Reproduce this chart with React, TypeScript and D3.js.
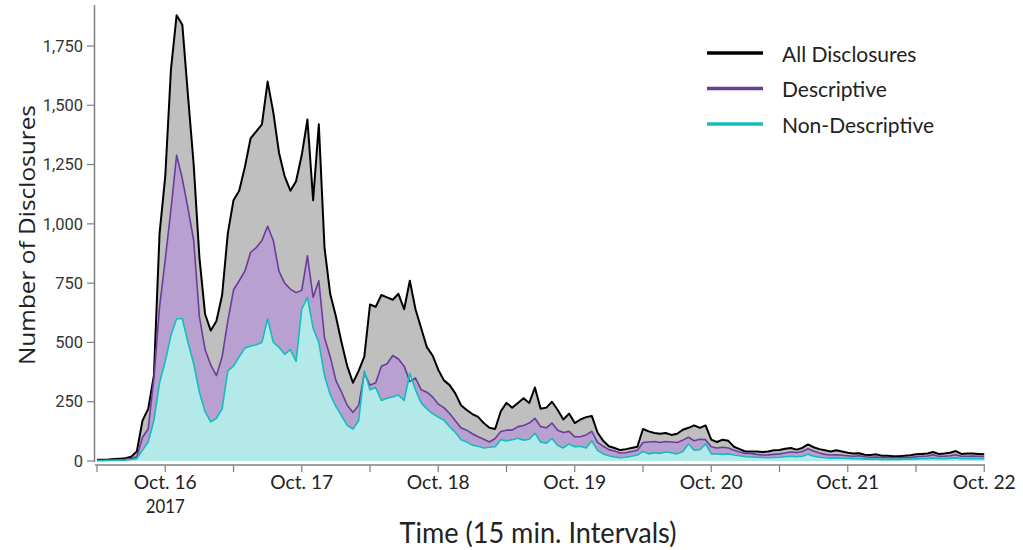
import React from "react";
import * as d3 from "d3";

// hour offsets from 2017-10-15 12:00 UTC (15-min data shown at hourly resolution)
const allDisclosures = [
  5, 5, 6, 8, 10, 12, 18, 40, 170, 220, 360, 960, 1200, 1650, 1880, 1840, 1540, 1250, 860, 620,
  550, 590, 700, 960, 1100, 1140, 1240, 1360, 1390, 1420, 1600, 1470, 1300, 1200, 1140, 1180, 1290, 1440, 1100, 1420,
  900, 705, 610, 500, 400, 330, 380, 440, 660, 650, 700, 690, 680, 705, 640, 760, 640, 560, 480, 445,
  385, 340, 320, 285, 235, 215, 198, 186, 160, 140, 135, 210, 245, 225, 245, 265, 245, 310, 220, 225,
  250, 215, 175, 200, 160, 175, 185, 190, 120, 85, 62, 55, 46, 50, 55, 60, 135, 125, 118, 115,
  118, 110, 115, 132, 140, 150, 140, 150, 90, 80, 90, 85, 60, 50, 40, 40, 40, 38, 40, 45,
  46, 52, 55, 48, 55, 70, 58, 50, 45, 40, 45, 40, 35, 32, 33, 26, 25, 28, 22, 22,
  20, 20, 22, 24, 28, 30, 32, 38, 30, 32, 35, 42, 30, 32, 32, 30, 28,
];
const descriptive = [
  2, 2, 3, 4, 5, 6, 10, 18, 100, 135, 350, 650, 850, 1060, 1290, 1190, 1065, 930, 610, 470,
  405, 360, 440, 590, 721, 760, 800, 880, 900, 930, 990, 930, 800, 750, 725, 710, 720, 865, 690, 760,
  520, 440, 340, 290, 235, 205, 235, 370, 320, 330, 400, 410, 445, 430, 400, 335, 350, 300, 290, 270,
  240, 225, 200, 170, 140, 130, 115, 102, 92, 80, 95, 124, 130, 130, 145, 150, 160, 180, 145, 140,
  160, 130, 120, 125, 102, 102, 110, 125, 80, 62, 48, 42, 34, 35, 40, 45, 78, 80, 82, 78,
  82, 80, 78, 88, 100, 85, 92, 90, 60, 55, 58, 55, 45, 38, 32, 32, 28, 25, 26, 28,
  30, 34, 38, 36, 40, 52, 42, 34, 28, 25, 26, 24, 22, 20, 22, 18, 16, 17, 15, 15,
  14, 14, 15, 16, 18, 20, 21, 26, 20, 20, 22, 26, 20, 20, 21, 20, 19,
];
const nonDescriptive = [
  2, 2, 2, 3, 3, 4, 6, 10, 46, 80, 170, 330, 420, 530, 600, 600, 500, 410, 290, 208,
  165, 180, 220, 380, 400, 440, 475, 485, 490, 500, 600, 500, 480, 450, 470, 420, 640, 690, 560, 500,
  360, 280, 230, 190, 150, 135, 170, 380, 300, 310, 255, 265, 270, 278, 255, 370, 300, 245, 220, 200,
  185, 172, 145, 120, 90, 80, 67, 62, 55, 58, 60, 90, 85, 90, 96, 88, 92, 117, 80, 75,
  95, 65, 55, 72, 60, 62, 55, 85, 45, 30, 22, 17, 14, 16, 20, 25, 40, 30, 35, 32,
  38, 35, 30, 40, 72, 45, 48, 72, 30, 30, 28, 30, 25, 22, 18, 17, 16, 15, 14, 15,
  16, 18, 20, 18, 20, 28, 20, 16, 14, 12, 13, 12, 11, 10, 10, 8, 8, 8, 7, 7,
  7, 7, 8, 8, 9, 10, 10, 12, 10, 10, 11, 13, 10, 10, 10, 10, 9,
];
const yTicks = [0, 250, 500, 750, 1000, 1250, 1500, 1750];
const dayLabels = ["Oct. 16", "Oct. 17", "Oct. 18", "Oct. 19", "Oct. 20", "Oct. 21", "Oct. 22"];
const legendItems = ["All Disclosures", "Descriptive", "Non-Descriptive"];

const start = Date.UTC(2017, 9, 15, 12);
const end = Date.UTC(2017, 9, 22, 0);
const HOUR = 3600 * 1000;
const times = allDisclosures.map((_, i) => new Date(start + i * HOUR));

const COLORS = {
  allLine: "#000000",
  allFill: "#bfbfbf",
  descLine: "#6a3d9a",
  descFill: "#b8a0d0",
  nonLine: "#17bcbc",
  nonFill: "#b3e9e8",
};

export default function App() {
  const W = 1023;
  const H = 550;
  const x = d3.scaleUtc().domain([new Date(start), new Date(end)]).range([97, 984.25]);
  const y = d3.scaleLinear().domain([0, 1750]).range([461, 46]);

  const series = [
    { vals: allDisclosures, line: COLORS.allLine, fill: COLORS.allFill, w: 2 },
    { vals: descriptive, line: COLORS.descLine, fill: COLORS.descFill, w: 1.6 },
    { vals: nonDescriptive, line: COLORS.nonLine, fill: COLORS.nonFill, w: 1.6 },
  ];
  const area = (vals: number[]) =>
    d3
      .area<number>()
      .x((_, i) => x(times[i]))
      .y0(y(0))
      .y1((d) => y(d))(vals) as string;
  const line = (vals: number[]) =>
    d3
      .line<number>()
      .x((_, i) => x(times[i]))
      .y((d) => y(d))(vals) as string;

  const tickDates = d3.range(start, end + 1, 12 * HOUR).map((t) => new Date(t));
  const dayDates = d3.range(start + 12 * HOUR, end + 1, 24 * HOUR).map((t) => new Date(t));

  const cmFont = "Lato, 'Open Sans', sans-serif";
  const axisGray = "#7f7f7f";

  return (
    <svg width={W} height={H} style={{ position: "absolute", left: 0, top: 0, background: "#fff" }}>
      {series.map((s, i) => (
        <path key={"a" + i} d={area(s.vals)} fill={s.fill} stroke="none" />
      ))}
      {series.map((s, i) => (
        <path key={"l" + i} d={line(s.vals)} fill="none" stroke={s.line} strokeWidth={s.w} strokeLinejoin="round" />
      ))}

      {/* y axis */}
      <line x1={94.5} x2={94.5} y1={5} y2={462} stroke={axisGray} strokeWidth={1.5} />
      {yTicks.map((t) => (
        <g key={t}>
          <line x1={87} x2={94.5} y1={y(t)} y2={y(t)} stroke={axisGray} strokeWidth={1.2} />
          <text
            x={83}
            y={y(t)}
            dy="0.35em"
            textAnchor="end"
            fontFamily="Roboto, sans-serif"
            fontSize={16.5}
            fill="#333"
          >
            {d3.format(",")(t)}
          </text>
        </g>
      ))}
      <text
        transform={`translate(35,235) rotate(-90)`}
        textAnchor="middle"
        fontFamily="'Open Sans', sans-serif"
        fontSize={22}
        fill="#222"
        textLength={260}
        lengthAdjust="spacingAndGlyphs"
      >
        Number of Disclosures
      </text>

      {/* x axis */}
      <line x1={95} x2={985} y1={465} y2={465} stroke={axisGray} strokeWidth={1.5} />
      {tickDates.map((d, i) => (
        <line key={i} x1={x(d)} x2={x(d)} y1={465} y2={472} stroke={axisGray} strokeWidth={1.2} />
      ))}
      {dayDates.map((d, i) => (
        <text key={i} x={x(d)} y={489} textAnchor="middle" fontFamily={cmFont} fontSize={19} fill="#222"
          textLength={63} lengthAdjust="spacingAndGlyphs">
          {dayLabels[i]}
        </text>
      ))}
      <text x={x(dayDates[0])} y={513} textAnchor="middle" fontFamily={cmFont} fontSize={19} fill="#222"
        textLength={39} lengthAdjust="spacingAndGlyphs">
        2017
      </text>
      <text x={538} y={543} textAnchor="middle" fontFamily={cmFont} fontSize={29} fill="#222"
        textLength={277} lengthAdjust="spacingAndGlyphs">
        Time (15 min. Intervals)
      </text>

      {/* legend */}
      {legendItems.map((name, i) => (
        <g key={name}>
          <line x1={707} x2={763} y1={53 + i * 35.5} y2={53 + i * 35.5} stroke={series[i].line} strokeWidth={3.5} />
          <text x={782} y={61.5 + i * 35.5} fontFamily={cmFont} fontSize={21} fill="#222">
            {name}
          </text>
        </g>
      ))}
    </svg>
  );
}
